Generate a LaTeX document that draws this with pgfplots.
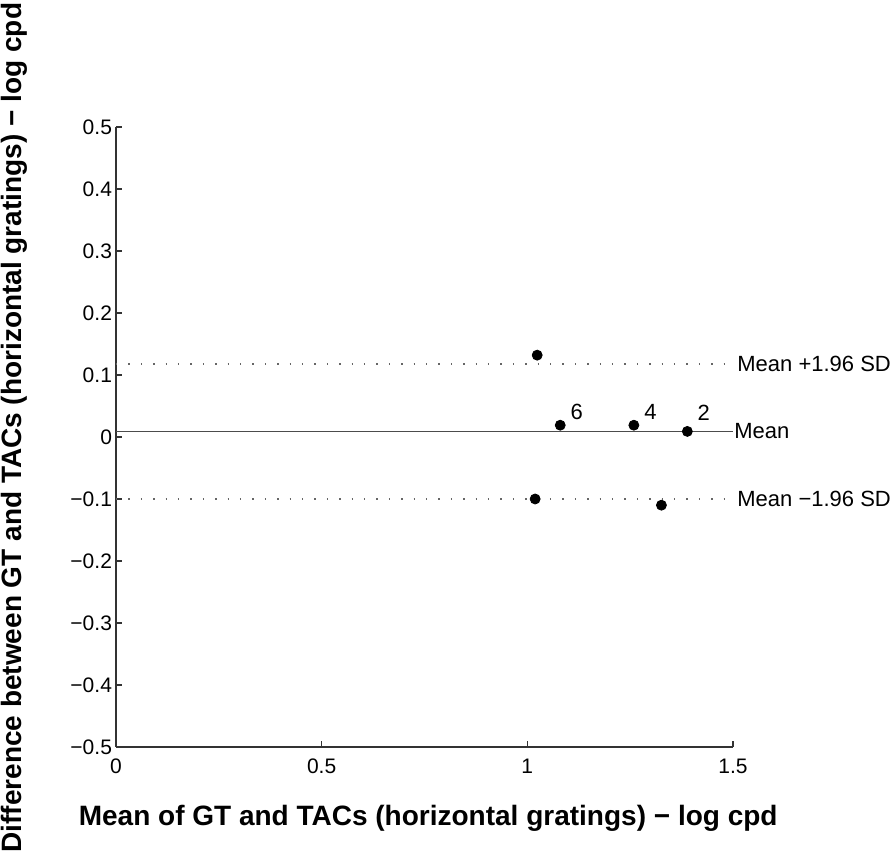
\documentclass[border=0pt]{standalone}
\usepackage{fontspec}
\setmainfont{Liberation Sans}
\usepackage{pgfplots}
\pgfplotsset{compat=1.18}

% Bland-Altman plot, horizontal gratings
\begin{document}
\begin{tikzpicture}
\useasboundingbox (-58pt,-57pt) rectangle (387.5pt,373.5pt);
\begin{axis}[
    width=308.5pt, height=310pt, scale only axis,
    xmin=0, xmax=1.5, ymin=-0.5, ymax=0.5,
    axis x line=bottom, axis y line=left,
    axis line style={-, black!80, line width=0.6pt},
    tick align=inside, major tick length=3pt,
    tick style={black!80, line width=0.6pt},
    xtick={0,0.5,1,1.5}, xticklabels={0,0.5,1,1.5},
    ytick={-0.5,-0.4,-0.3,-0.2,-0.1,0,0.1,0.2,0.3,0.4,0.5},
    yticklabels={−0.5,−0.4,−0.3,−0.2,−0.1,0,0.1,0.2,0.3,0.4,0.5},
    ticklabel style={font=\fontsize{10.5}{12}\selectfont},
    xticklabel style={yshift=-2.5pt},
    yticklabel style={xshift=1.5pt},
    clip=false,
    xlabel={Mean of GT and TACs (horizontal gratings) − log cpd},
    ylabel={Difference between GT and TACs (horizontal gratings) − log cpd},
    every axis x label/.style={at={(axis description cs:0.506,-0.115)}, anchor=center, font=\fontsize{14}{16}\selectfont\bfseries},
    every axis y label/.style={at={(axis description cs:-0.164,0.515)}, anchor=center, rotate=90, font=\fontsize{14}{16}\selectfont\bfseries},
]
% mean and limits of agreement
\addplot[black!70, line width=0.9pt] coordinates {(0,0.009) (1.5,0.009)};
\addplot[black!60, line width=0.8pt, dash pattern=on 0.7pt off 5.5pt] coordinates {(0,0.118) (1.5,0.118)};
\addplot[black!60, line width=0.8pt, dash pattern=on 0.7pt off 5.5pt] coordinates {(0,-0.100) (1.5,-0.100)};
% subjects
\addplot[only marks, mark=*, mark size=2.5pt, black] coordinates {
(1.024,0.132)
(1.080,0.019)
(1.259,0.019)
(1.389,0.009)
(1.019,-0.100)
(1.326,-0.110)
};
\node[anchor=south west, inner sep=0pt, font=\fontsize{11}{12}\selectfont] at (axis cs:1.080,0.019) [xshift=5pt, yshift=2.5pt] {6};
\node[anchor=south west, inner sep=0pt, font=\fontsize{11}{12}\selectfont] at (axis cs:1.259,0.019) [xshift=5pt, yshift=2.5pt] {4};
\node[anchor=south west, inner sep=0pt, font=\fontsize{11}{12}\selectfont] at (axis cs:1.389,0.009) [xshift=5pt, yshift=5.5pt] {2};
\node[anchor=west, inner sep=0pt, font=\fontsize{11}{12}\selectfont] at (axis cs:1.5,0.118) [xshift=2pt] {Mean +1.96 SD};
\node[anchor=west, inner sep=0pt, font=\fontsize{11}{12}\selectfont] at (axis cs:1.5,0.009) [xshift=0.5pt] {Mean};
\node[anchor=west, inner sep=0pt, font=\fontsize{11}{12}\selectfont] at (axis cs:1.5,-0.100) [xshift=2pt] {Mean −1.96 SD};
\end{axis}
\end{tikzpicture}
\end{document}
